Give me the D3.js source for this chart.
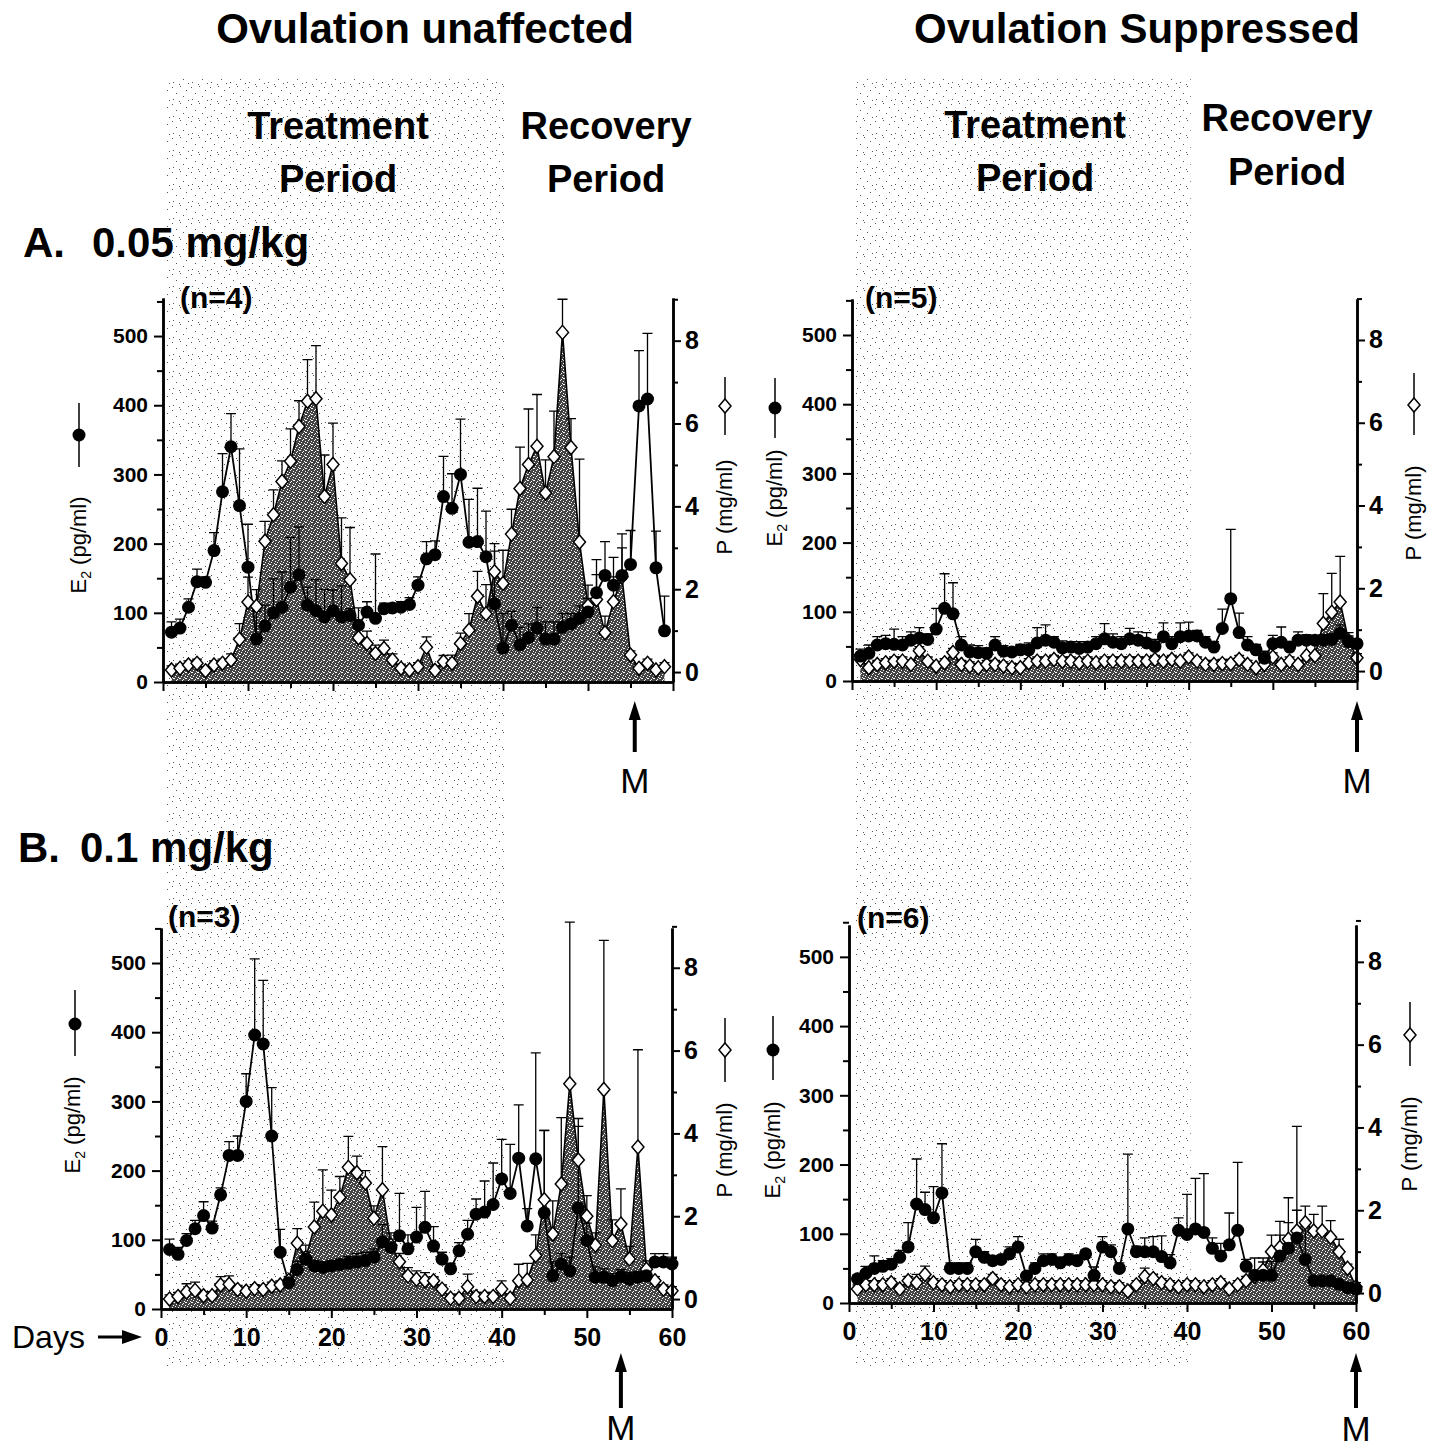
<!DOCTYPE html>
<html><head><meta charset="utf-8">
<script src="https://cdn.jsdelivr.net/npm/d3@7"></script>
<style>body{margin:0;background:#fff}svg{display:block}</style>
</head><body>
<svg id="c" width="1441" height="1450"></svg>
<script>
// ---------------- DATA ----------------
const days60 = [1,2,3,4,5,6,7,8,9,10,11,12,13,14,15,16,17,18,19,20,21,22,23,24,25,26,27,28,29,30,
                31,32,33,34,35,36,37,38,39,40,41,42,43,44,45,46,47,48,49,50,51,52,53,54,55,56,57,58,59,60];
const days59 = days60.slice(0, 59);

const xMajorTicks = [0,10,20,30,40,50,60];
const xMinorTicks = [5,15,25,35,45,55];
const e2MajorTicks = [0,100,200,300,400,500];
const e2MinorTicks = [50,150,250,350,450,550];
const pMajorTicks = [0,2,4,6,8];
const pMinorTicks = [1,3,5,7,9];

// A. 0.05 mg/kg, ovulation unaffected (n=4)
const aLeftE2 = [72,78,108,145,144,190,275,340,255,166, 62,81,100,108,137,155,111,103,94,103,
  94,96,82,101,92,106,107,108,112,140, 178,184,268,251,300,202,203,181,113,49,
  82,54,64,78,62,62,79,84,92,101, 129,154,140,154,170,399,409,165,74];
const aLeftE2Err = [15,13,12,18,8,26,55,48,82,62, 40,30,49,51,72,69,26,45,40,30,
  45,10,25,15,93,8,5,8,10,12, 25,20,58,50,80,62,77,66,87,50,
  20,25,20,30,25,25,20,15,18,20, 48,49,40,60,49,80,95,53,50];
const aLeftP = [0.05,0.09,0.17,0.21,0.03,0.17,0.21,0.29,0.79,1.69, 1.59,3.16,3.8,4.6,5.09,5.93,6.54,6.6,4.24,5.01,
  2.62,2.23,0.83,0.69,0.45,0.57,0.29,0.09,0.05,0.13, 0.6,0.04,0.25,0.21,0.69,1.01,1.83,1.41,2.42,2.14,
  3.33,4.43,5.01,5.45,4.32,5.2,8.2,5.42,3.14,1.6, 1.75,0.95,1.7,2.3,0.41,0.09,0.21,0.05,0.13];
const aLeftPErr = [0.1,0.1,0.1,0.1,0.1,0.1,0.1,0.15,0.38,0.6, 0.4,0.48,0.6,0.5,0.78,0.62,1.0,1.28,1.0,1.0,
  1.1,1.26,0.3,0.3,0.2,0.2,0.15,0.1,0.1,0.1, 0.25,0.1,0.15,0.2,0.25,0.4,0.6,0.7,0.5,0.8,
  0.6,1.0,1.34,1.25,0.8,1.1,0.8,0.7,2.0,0.5, 0.6,0.4,0.6,0.7,0.1,0.1,0.1,0.1,0.1];

// A. 0.05 mg/kg, ovulation suppressed (n=5)
const aRightE2 = [36,40,52,54,53,52,59,62,60,75, 105,97,52,42,41,40,52,43,42,45,
  45,55,59,56,48,49,47,49,54,61, 56,54,61,59,55,50,64,54,64,65,
  65,56,49,76,119,70,52,45,33,54, 56,49,59,59,59,59,60,69,57,54];
const aRightE2Err = [10,12,12,12,22,12,12,15,8,30, 50,45,12,10,10,8,12,8,5,8,
  10,22,22,8,10,8,10,8,10,22, 12,10,15,12,15,10,20,10,20,20,
  8,8,8,28,100,28,12,8,10,12, 22,8,12,8,5,8,8,12,8,5];
const aRightP = [0.28,0.08,0.16,0.2,0.24,0.24,0.16,0.49,0.24,0.12, 0.2,0.45,0.16,0.12,0.08,0.16,0.16,0.12,0.08,0.08,
  0.2,0.24,0.24,0.28,0.24,0.24,0.2,0.24,0.2,0.24, 0.24,0.24,0.24,0.24,0.24,0.28,0.24,0.28,0.24,0.34,
  0.24,0.16,0.16,0.18,0.18,0.28,0.16,0.08,0.16,0.34, 0.16,0.24,0.16,0.37,0.37,1.15,1.42,1.67,0.73,0.32];
const aRightPErr = [0.1,0.1,0.1,0.1,0.1,0.1,0.1,0.1,0.1,0.1, 0.1,0.1,0.1,0.1,0.1,0.1,0.1,0.1,0.1,0.1,
  0.1,0.1,0.1,0.1,0.1,0.1,0.1,0.1,0.1,0.1, 0.1,0.1,0.1,0.1,0.1,0.1,0.1,0.1,0.1,0.1,
  0.1,0.1,0.1,0.1,0.1,0.1,0.1,0.1,0.1,0.1, 0.1,0.1,0.1,0.3,0.3,0.72,0.94,1.1,0.2,0.1];

// B. 0.1 mg/kg, ovulation unaffected (n=3)
const bLeftE2 = [86,79,99,116,135,117,165,222,222,300, 396,383,250,82,38,57,72,62,60,62,
  64,66,68,70,75,97,89,106,87,104, 118,91,72,58,84,108,137,140,151,188,
  167,218,120,217,139,48,65,55,146,99, 46,46,41,47,43,46,48,68,68,65];
const bLeftE2Err = [15,10,10,12,20,10,10,20,28,40, 110,92,70,33,8,12,10,8,8,8,
  8,10,12,12,12,25,12,61,20,43, 52,28,10,8,12,20,22,45,60,57,
  71,77,25,153,119,20,15,20,118,25, 15,12,10,10,10,8,8,12,12,10];
const bLeftP = [0.0,0.06,0.17,0.21,0.08,0.08,0.34,0.36,0.23,0.19, 0.25,0.23,0.31,0.34,0.45,1.35,1.0,1.74,2.12,2.03,
  2.46,3.18,3.05,2.8,1.95,2.64,1.3,0.9,0.56,0.48, 0.44,0.44,0.24,0.02,0.02,0.3,0.06,0.06,0.06,0.24,
  0.02,0.44,0.46,1.05,2.4,1.57,2.78,5.2,3.36,2.0, 1.3,5.06,1.41,1.81,0.97,3.67,0.72,0.44,0.24,0.2];
const bLeftPErr = [0.1,0.1,0.2,0.2,0.1,0.1,0.2,0.2,0.1,0.1, 0.1,0.1,0.1,0.1,0.1,0.35,0.3,0.6,1.0,0.6,
  0.5,0.75,0.4,0.3,0.3,1.04,0.3,0.2,0.2,0.2, 0.2,0.1,0.1,0.1,0.1,0.3,0.1,0.1,0.1,0.2,
  0.1,0.4,0.4,0.5,1.67,0.8,1.6,3.9,1.0,0.5, 0.3,3.6,0.5,0.85,0.3,2.35,0.2,0.1,0.1,0.1];

// B. 0.1 mg/kg, ovulation suppressed (n=6)
const bRightE2 = [35,43,50,53,56,66,81,143,135,123, 159,50,50,50,74,66,61,63,71,81,
  39,50,61,63,58,63,61,71,40,81, 74,50,107,74,74,74,67,58,105,99,
  107,102,79,68,84,105,53,40,40,40, 68,79,94,63,32,32,32,27,22,20];
const bRightE2Err = [5,10,18,8,8,10,35,65,25,45, 71,8,8,8,18,8,5,5,10,15,
  5,8,10,8,8,8,8,5,12,15, 10,8,108,8,20,22,30,12,18,58,
  73,85,15,18,46,98,10,25,25,20, 50,73,161,50,5,5,5,5,5,5];
const bRightP = [0.1,0.2,0.2,0.2,0.25,0.1,0.3,0.25,0.45,0.25, 0.2,0.15,0.2,0.2,0.2,0.2,0.35,0.2,0.15,0.2,
  0.15,0.2,0.2,0.2,0.2,0.2,0.2,0.2,0.2,0.2, 0.15,0.15,0.05,0.2,0.4,0.35,0.25,0.2,0.15,0.2,
  0.2,0.15,0.2,0.25,0.1,0.2,0.3,0.4,0.55,1.0, 1.1,1.3,1.5,1.7,1.5,1.5,1.35,1.0,0.6,0.15];
const bRightPErr = [0.1,0.1,0.1,0.1,0.1,0.1,0.1,0.2,0.2,0.1, 0.1,0.1,0.1,0.1,0.1,0.1,0.1,0.1,0.1,0.1,
  0.1,0.1,0.1,0.1,0.1,0.1,0.1,0.1,0.1,0.1, 0.1,0.1,0.1,0.1,0.2,0.1,0.1,0.1,0.1,0.1,
  0.1,0.1,0.1,0.1,0.1,0.1,0.1,0.1,0.2,0.4, 0.3,0.4,0.5,0.4,0.4,0.6,0.4,0.3,0.1,0.1];

const groupCounts = ["(n=4)", "(n=5)", "(n=3)", "(n=6)"];
const menstruationDay = [55.5, 60, 54, 60];
const treatmentDays = [0, 40];

// ---------------- DRAWING ----------------
const FONT = "'Liberation Sans', Arial, Helvetica, sans-serif";
const svg = d3.select('#c');
svg.append('rect').attr('width',1441).attr('height',1450).attr('fill','#fff');
const defs = svg.append('defs');

// light stipple (treatment period background): sparse specks
const lp = defs.append('pattern').attr('id','lightStip').attr('patternUnits','userSpaceOnUse')
  .attr('width',19).attr('height',17);
[[1,2],[9,1],[15,5],[5,8],[12,11],[2,14],[17,15],[8,16]].forEach(([x,y]) =>
  lp.append('rect').attr('x',x).attr('y',y).attr('width',1).attr('height',1).attr('fill','#555'));

// dark stipple (progesterone area)
const dp = defs.append('pattern').attr('id','darkStip').attr('patternUnits','userSpaceOnUse')
  .attr('width',6).attr('height',6);
dp.append('rect').attr('width',6).attr('height',6).attr('fill','#444');
[[0,0],[3,1],[5,3],[1,4],[4,5],[2,2],[5,0]].forEach(([x,y]) =>
  dp.append('rect').attr('x',x).attr('y',y).attr('width',1).attr('height',1).attr('fill','#fff'));

const panels = [
  {x0:163, x1:673, yBot:682, yTop:298, eDom:[0,555], pDom:[-0.24,9.03], days:days59,
   e2:aLeftE2, e2Err:aLeftE2Err, p:aLeftP, pErr:aLeftPErr, xLabels:false, n:0,
   nPos:[180,308], eLab:{x:86,cy:545,sy:435,s1:403,s2:467,sx:79}, pLab:{x:732,cy:507,sy:406,s1:377,s2:435,sx:725},
   arrow:{tip:701,bot:752,mBase:793}},
  {x0:852, x1:1357, yBot:681, yTop:299, eDom:[0,552], pDom:[-0.24,8.99], days:days60,
   e2:aRightE2, e2Err:aRightE2Err, p:aRightP, pErr:aRightPErr, xLabels:false, n:1,
   nPos:[865,308], eLab:{x:782,cy:498,sy:408,s1:378,s2:438,sx:775}, pLab:{x:1421,cy:513,sy:405,s1:373,s2:435,sx:1414},
   arrow:{tip:701,bot:752,mBase:793}},
  {x0:161, x1:672, yBot:1309, yTop:928, eDom:[0,550.6], pDom:[-0.24,8.96], days:days60,
   e2:bLeftE2, e2Err:bLeftE2Err, p:bLeftP, pErr:bLeftPErr, xLabels:true, n:2,
   nPos:[168,927], eLab:{x:80,cy:1125,sy:1024,s1:990,s2:1056,sx:75}, pLab:{x:732,cy:1150,sy:1050,s1:1018,s2:1082,sx:725},
   arrow:{tip:1353,bot:1408,mBase:1440}},
  {x0:849, x1:1356, yBot:1303, yTop:925, eDom:[0,546], pDom:[-0.24,8.89], days:days60,
   e2:bRightE2, e2Err:bRightE2Err, p:bRightP, pErr:bRightPErr, xLabels:true, n:3,
   nPos:[857,928], eLab:{x:780,cy:1150,sy:1050,s1:1016,s2:1080,sx:773}, pLab:{x:1417,cy:1144,sy:1035,s1:1002,s2:1066,sx:1410},
   arrow:{tip:1353,bot:1408,mBase:1441}}
];

// treatment-period stippled backgrounds (one per column, spanning both rows)
[[panels[0], panels[2]], [panels[1], panels[3]]].forEach(([top, bot]) => {
  const x = d3.scaleLinear().domain([0,60]).range([top.x0, top.x1]);
  svg.append('rect').attr('x', x(treatmentDays[0]) + 2).attr('y', 78)
    .attr('width', x(treatmentDays[1]) - x(treatmentDays[0])).attr('height', 1290)
    .attr('fill', 'url(#lightStip)');
});

function diamondPath(cx, cy, w, h) {
  return `M${cx},${cy-h}L${cx+w},${cy}L${cx},${cy+h}L${cx-w},${cy}Z`;
}

function text(x, y, str, size, weight, anchor) {
  return svg.append('text').attr('x', x).attr('y', y).text(str)
    .attr('font-family', FONT).attr('font-size', size).attr('font-weight', weight || 'bold')
    .attr('text-anchor', anchor || 'start').attr('fill', '#000');
}

function upArrow(x, tip, bot) {
  svg.append('line').attr('x1', x).attr('x2', x).attr('y1', tip + 14).attr('y2', bot)
    .attr('stroke', '#000').attr('stroke-width', 4);
  svg.append('path').attr('d', `M${x},${tip}L${x+6},${tip+19}L${x-6},${tip+19}Z`).attr('fill', '#000');
}

panels.forEach(p => {
  const x = d3.scaleLinear().domain([0,60]).range([p.x0, p.x1]);
  const yE = d3.scaleLinear().domain(p.eDom).range([p.yBot, p.yTop]);
  const yP = d3.scaleLinear().domain(p.pDom).range([p.yBot, p.yTop]);
  const pts = p.days.map((d, i) => ({d, e:p.e2[i], ee:p.e2Err[i], p:p.p[i], pe:p.pErr[i]}));
  const g = svg.append('g');

  // progesterone area
  g.append('path').datum(pts)
    .attr('d', d3.area().x(d => x(d.d)).y0(p.yBot).y1(d => yP(d.p)))
    .attr('fill', 'url(#darkStip)');

  // error bars
  const eb = g.append('g').attr('stroke', '#000').attr('stroke-width', 1.3).attr('fill', 'none');
  pts.forEach(d => {
    const xx = x(d.d);
    const yE1 = yE(d.e), yE2 = yE(d.e + d.ee);
    eb.append('path').attr('d', `M${xx},${yE1}V${yE2}M${xx-5},${yE2}H${xx+5}`);
    const yP1 = yP(d.p), yP2 = yP(d.p + d.pe);
    eb.append('path').attr('d', `M${xx},${yP1}V${yP2}M${xx-5},${yP2}H${xx+5}`);
  });

  // lines
  g.append('path').datum(pts).attr('d', d3.line().x(d => x(d.d)).y(d => yP(d.p)))
    .attr('fill', 'none').attr('stroke', '#000').attr('stroke-width', 1.6);
  g.append('path').datum(pts).attr('d', d3.line().x(d => x(d.d)).y(d => yE(d.e)))
    .attr('fill', 'none').attr('stroke', '#000').attr('stroke-width', 1.8);

  // markers
  g.selectAll('path.dia').data(pts).enter().append('path').attr('class', 'dia')
    .attr('d', d => diamondPath(x(d.d), yP(d.p), 6, 7))
    .attr('fill', '#fff').attr('stroke', '#000').attr('stroke-width', 1.5);
  g.selectAll('circle').data(pts).enter().append('circle')
    .attr('cx', d => x(d.d)).attr('cy', d => yE(d.e)).attr('r', 6.5).attr('fill', '#000');

  // axes
  const styleAxis = (sel, fs) => {
    sel.select('.domain').attr('stroke', '#000').attr('stroke-width', 2.5);
    sel.selectAll('.tick line').attr('stroke', '#000').attr('stroke-width', 2);
    sel.selectAll('.tick text').attr('font-family', FONT).attr('font-weight', 'bold')
      .attr('font-size', fs).attr('fill', '#000');
  };
  const la = g.append('g').attr('transform', `translate(${p.x0},0)`)
    .call(d3.axisLeft(yE).tickValues(e2MajorTicks).tickSize(9).tickSizeOuter(0).tickPadding(6));
  styleAxis(la, 21);
  const lm = g.append('g').attr('transform', `translate(${p.x0},0)`)
    .call(d3.axisLeft(yE).tickValues(e2MinorTicks).tickSize(6).tickSizeOuter(0).tickFormat(''));
  styleAxis(lm, 21);
  const ra = g.append('g').attr('transform', `translate(${p.x1},0)`)
    .call(d3.axisRight(yP).tickValues(pMajorTicks).tickSize(8).tickSizeOuter(0).tickPadding(4));
  styleAxis(ra, 25);
  const rm = g.append('g').attr('transform', `translate(${p.x1},0)`)
    .call(d3.axisRight(yP).tickValues(pMinorTicks).tickSize(5).tickSizeOuter(0).tickFormat(''));
  styleAxis(rm, 25);
  const xa = g.append('g').attr('transform', `translate(0,${p.yBot})`)
    .call(d3.axisBottom(x).tickValues(xMajorTicks).tickSize(9).tickSizeOuter(0).tickPadding(10)
      .tickFormat(p.xLabels ? d3.format('d') : ''));
  styleAxis(xa, 25);
  const xm = g.append('g').attr('transform', `translate(0,${p.yBot})`)
    .call(d3.axisBottom(x).tickValues(xMinorTicks).tickSize(6).tickSizeOuter(0).tickFormat(''));
  styleAxis(xm, 25);

  // n label
  text(p.nPos[0], p.nPos[1], groupCounts[p.n], 30, 'bold');

  // E2 axis title with legend symbol
  const el = p.eLab;
  svg.append('line').attr('x1', el.sx).attr('x2', el.sx).attr('y1', el.s1).attr('y2', el.s2)
    .attr('stroke', '#000').attr('stroke-width', 1.5);
  svg.append('circle').attr('cx', el.sx).attr('cy', el.sy).attr('r', 6.5).attr('fill', '#000');
  const et = svg.append('text').attr('transform', `translate(${el.x},${el.cy}) rotate(-90)`)
    .attr('text-anchor', 'middle').attr('font-family', FONT).attr('font-size', 22).attr('fill', '#000');
  et.append('tspan').text('E');
  et.append('tspan').text('2').attr('font-size', 14).attr('dy', 5);
  et.append('tspan').text(' (pg/ml)').attr('dy', -5);

  // P axis title with legend symbol
  const pl = p.pLab;
  svg.append('line').attr('x1', pl.sx).attr('x2', pl.sx).attr('y1', pl.s1).attr('y2', pl.s2)
    .attr('stroke', '#000').attr('stroke-width', 1.5);
  svg.append('path').attr('d', diamondPath(pl.sx, pl.sy, 6, 7))
    .attr('fill', '#fff').attr('stroke', '#000').attr('stroke-width', 1.5);
  svg.append('text').attr('transform', `translate(${pl.x},${pl.cy}) rotate(-90)`)
    .attr('text-anchor', 'middle').attr('font-family', FONT).attr('font-size', 22).attr('fill', '#000')
    .text('P (mg/ml)');

  // menstruation arrow
  const ax = x(menstruationDay[p.n]);
  upArrow(ax, p.arrow.tip, p.arrow.bot);
  text(ax, p.arrow.mBase, 'M', 35, 'normal', 'middle');
});

// headings
text(425, 43, 'Ovulation unaffected', 42, 'bold', 'middle');
text(1137, 43, 'Ovulation Suppressed', 42, 'bold', 'middle');
text(338, 139, 'Treatment', 38, 'bold', 'middle');
text(338, 192, 'Period', 38, 'bold', 'middle');
text(606, 139, 'Recovery', 38, 'bold', 'middle');
text(606, 192, 'Period', 38, 'bold', 'middle');
text(1035, 138, 'Treatment', 38, 'bold', 'middle');
text(1035, 191, 'Period', 38, 'bold', 'middle');
text(1287, 131, 'Recovery', 38, 'bold', 'middle');
text(1287, 185, 'Period', 38, 'bold', 'middle');
text(23, 257, 'A.', 42, 'bold');
text(92, 257, '0.05 mg/kg', 42, 'bold');
text(18, 862, 'B.', 42, 'bold');
text(80, 862, '0.1 mg/kg', 42, 'bold');

// Days arrow
text(12, 1348, 'Days', 32, 'normal');
svg.append('line').attr('x1', 98).attr('x2', 126).attr('y1', 1337).attr('y2', 1337)
  .attr('stroke', '#000').attr('stroke-width', 3);
svg.append('path').attr('d', 'M142,1337L122,1330L122,1344Z').attr('fill', '#000');
</script>
</body></html>
